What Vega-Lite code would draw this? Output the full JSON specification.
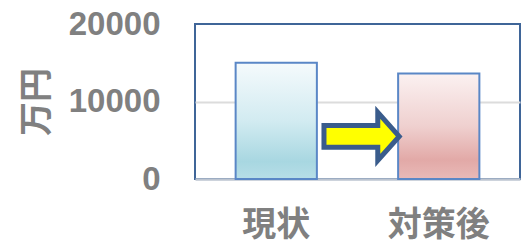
{
  "$schema": "https://vega.github.io/schema/vega-lite/v6.json",
  "width": 325,
  "height": 155,
  "autosize": {"type": "none"},
  "padding": {"left": 195, "top": 24, "right": 6, "bottom": 67},
  "background": "white",
  "config": {"view": {"stroke": "#3f6598", "strokeWidth": 2}},
  "datasets": {
    "bars": [
      {"cat": "現状", "value": 15000},
      {"cat": "対策後", "value": 13600}
    ],
    "arrow": [
      {"cat": "現状", "value": 5500}
    ]
  },
  "encoding": {
    "x": {
      "field": "cat",
      "type": "nominal",
      "sort": ["現状", "対策後"],
      "scale": {"domain": ["現状", "対策後"], "paddingInner": 0.5, "paddingOuter": 0.25},
      "axis": {
        "title": null,
        "labelFont": "Noto Sans CJK JP",
        "labelFontSize": 34,
        "labelFontWeight": "bold",
        "labelColor": "#808080",
        "labelPadding": 29,
        "labelAngle": 0,
        "ticks": false,
        "domain": true,
        "domainColor": "#bcc4d0",
        "domainWidth": 2.5,
        "grid": false
      }
    },
    "y": {
      "field": "value",
      "type": "quantitative",
      "scale": {"domain": [0, 20000], "nice": false},
      "axis": {
        "values": [0, 10000, 20000],
        "format": "d",
        "title": "万円",
        "titleFont": "Noto Sans CJK JP",
        "titleFontSize": 34,
        "titleFontWeight": "bold",
        "titleColor": "#808080",
        "titlePadding": 14,
        "labelFont": "Liberation Sans",
        "labelFontSize": 33,
        "labelFontWeight": "bold",
        "labelColor": "#808080",
        "labelPadding": 35,
        "ticks": false,
        "domain": false,
        "grid": true,
        "gridColor": "#dcdcdc",
        "gridWidth": 2,
        "gridOpacity": {"condition": {"test": "datum.value === 10000", "value": 1}, "value": 0}
      }
    }
  },
  "layer": [
    {
      "data": {"name": "bars"},
      "transform": [{"filter": "datum.cat === '現状'"}],
      "mark": {
        "type": "bar",
        "stroke": "#5a87c6",
        "strokeWidth": 2,
        "fill": {
          "gradient": "linear", "x1": 0, "y1": 0, "x2": 0, "y2": 1,
          "stops": [
            {"offset": 0, "color": "#f5fafc"},
            {"offset": 0.5, "color": "#d2ebf1"},
            {"offset": 0.85, "color": "#a8d7e1"},
            {"offset": 1, "color": "#b7dee7"}
          ]
        }
      }
    },
    {
      "data": {"name": "bars"},
      "transform": [{"filter": "datum.cat === '対策後'"}],
      "mark": {
        "type": "bar",
        "stroke": "#5a87c6",
        "strokeWidth": 2,
        "fill": {
          "gradient": "linear", "x1": 0, "y1": 0, "x2": 0, "y2": 1,
          "stops": [
            {"offset": 0, "color": "#fbf1f1"},
            {"offset": 0.5, "color": "#efd0cf"},
            {"offset": 0.82, "color": "#e2a9a7"},
            {"offset": 1, "color": "#e9bab8"}
          ]
        }
      }
    },
    {
      "data": {"name": "arrow"},
      "mark": {
        "type": "point",
        "shape": "M-0.96,-0.27L0.385,-0.27L0.385,-0.6L0.92,0L0.385,0.6L0.385,0.27L-0.96,0.27Z",
        "size": 6400,
        "filled": true,
        "fill": "#ffff00",
        "stroke": "#3a5c8c",
        "strokeWidth": 5,
        "strokeJoin": "miter",
        "opacity": 1
      },
      "encoding": {
        "x": {"field": "cat", "type": "nominal", "bandPosition": 1.56},
        "y": {"field": "value", "type": "quantitative"}
      }
    }
  ]
}
